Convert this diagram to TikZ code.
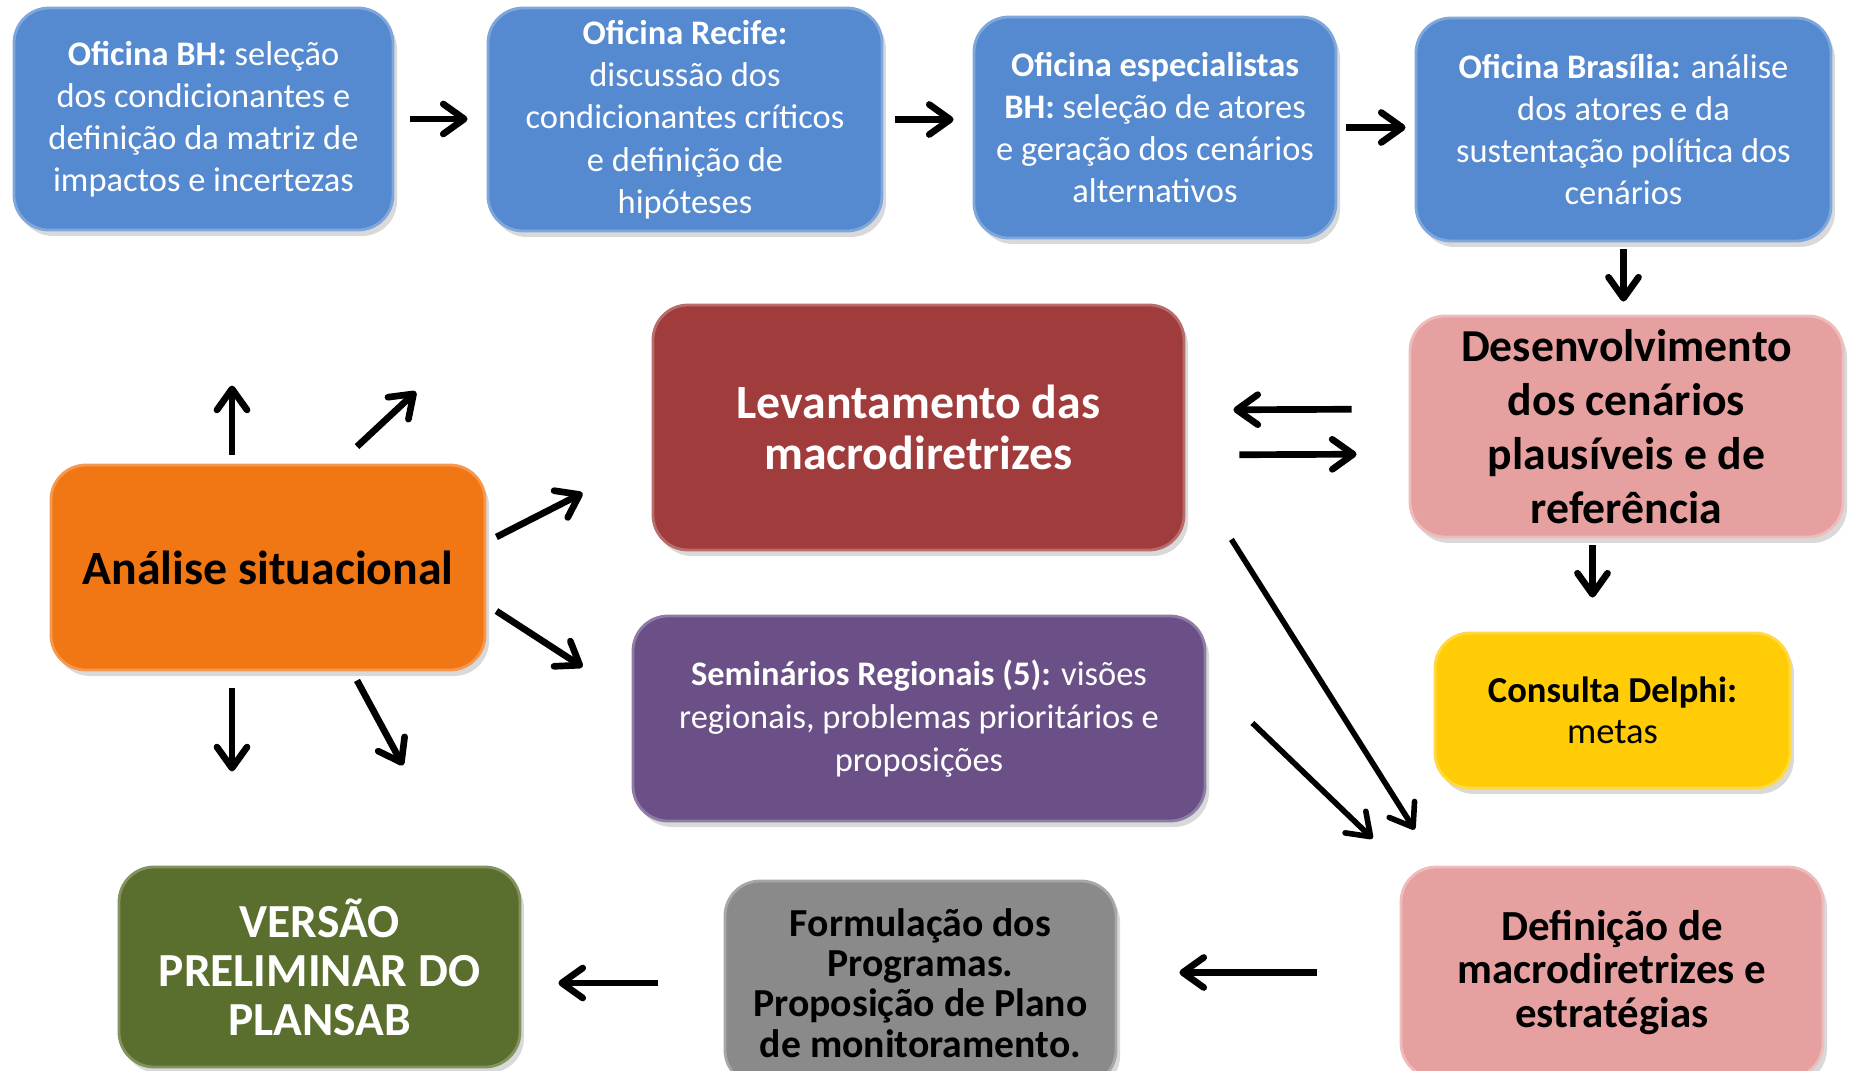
\documentclass[tikz,border=0pt]{standalone}
\usepackage{fontspec}
\setmainfont{Carlito}
\definecolor{Blucol}{HTML}{558AD0}
\definecolor{Redcol}{HTML}{A03C3B}
\definecolor{Pnkcol}{HTML}{E6A09F}
\definecolor{Orgcol}{HTML}{F17714}
\definecolor{Purcol}{HTML}{6A5087}
\definecolor{Yelcol}{HTML}{FFCC05}
\definecolor{Grncol}{HTML}{5A6E2D}
\definecolor{Grycol}{HTML}{8A8A8A}
\usetikzlibrary{arrows.meta, positioning, shadows, calc}
\tikzset{
    >={Straight Barb[length=2.1mm,width=3.0mm,round]},
    box/.style 2 args={rounded corners=3.5mm, align=center, inner sep=2pt,
        minimum width=#1, minimum height=#2, line width=0.8pt,
        drop shadow={shadow xshift=0.4mm, shadow yshift=-0.6mm, opacity=0.3}},
    topbox/.style={fill=Blucol, draw=Blucol!75!white, text=white,
        font=\fontsize{9.8}{12}\selectfont},
    arr/.style={->, line width=1.9pt, black},
    thinarr/.style={->, line width=1.6pt, black}
}

\begin{document}
\begin{tikzpicture}
    \useasboundingbox (0,0) rectangle (18.49,-10.71);

    % Oficinas
    \node[box={3.79cm}{2.22cm}, topbox] (bh) at (2.035,-1.19)
        {\textbf{Oficina BH:} seleção\\ dos condicionantes e\\ definição da matriz de\\ impactos e incertezas};
    \node[box={3.94cm}{2.23cm}, topbox] (recife) at (6.85,-1.195)
        {\textbf{Oficina Recife:}\\ discussão dos\\ condicionantes críticos\\ e definição de\\ hipóteses};
    \node[box={3.62cm}{2.21cm}, topbox] (esp) at (11.55,-1.275)
        {\textbf{Oficina especialistas}\\ \textbf{BH:} seleção de atores\\ e geração dos cenários\\ alternativos};
    \node[box={4.15cm}{2.23cm}, topbox] (bras) at (16.235,-1.295)
        {\textbf{Oficina Brasília:} análise\\ dos atores e da\\ sustentação política dos\\ cenários};

    % Middle row
    \node[box={4.33cm}{2.21cm}, fill=Pnkcol, draw=Pnkcol!70!white,
        font=\fontsize{13}{15.4}\selectfont\bfseries] (des) at (16.265,-4.265)
        {Desenvolvimento\\ dos cenários\\ plausíveis e de\\ referência};
    \node[box={5.31cm}{2.45cm}, fill=Redcol, draw=Redcol!75!white, text=white,
        font=\fontsize{13.6}{14.5}\selectfont\bfseries] (lev) at (9.185,-4.275)
        {Levantamento das\\ macrodiretrizes};
    \node[box={4.34cm}{2.05cm}, fill=Orgcol, draw=Orgcol!75!white,
        font=\fontsize{13.6}{15}\selectfont\bfseries] (ana) at (2.68,-5.675)
        {Análise situacional};
    \node[box={5.72cm}{2.05cm}, fill=Purcol, draw=Purcol!75!white, text=white,
        font=\fontsize{9.8}{12.2}\selectfont] (sem) at (9.19,-7.185)
        {\textbf{Seminários Regionais (5):} visões\\ regionais, problemas prioritários e\\ proposições};
    \node[box={3.55cm}{1.55cm}, fill=Yelcol, draw=Yelcol!75!white,
        font=\fontsize{10.4}{11.5}\selectfont] (del) at (16.125,-7.105)
        {\textbf{Consulta Delphi:}\\ metas};

    % Bottom row
    \node[box={4.22cm}{2.11cm}, fill=Pnkcol, draw=Pnkcol!70!white,
        font=\fontsize{12.2}{12.4}\selectfont\bfseries] (def) at (16.12,-9.725)
        {Definição de\\ macrodiretrizes e\\ estratégias};
    \node[box={3.91cm}{2.04cm}, fill=Grycol, draw=Grycol!75!white,
        font=\fontsize{11.3}{11.5}\selectfont\bfseries] (form) at (9.205,-9.83)
        {Formulação dos\\ Programas.\\ Proposição de Plano\\ de monitoramento.};
    \node[box={4.01cm}{2.0cm}, fill=Grncol, draw=Grncol!75!white, text=white,
        font=\fontsize{13.5}{13.9}\selectfont\bfseries] (ver) at (3.195,-9.67)
        {VERSÃO\\ PRELIMINAR DO\\ PLANSAB};

    % Free ends of the arrows around the situational analysis
    \coordinate (upA) at ([shift={(-0.36,0.78)}]ana.north);
    \coordinate (upB) at ([shift={(1.48,0.72)}]ana.north);
    \coordinate (dnA) at ([shift={(-0.36,-1.0)}]ana.south);
    \coordinate (dnB) at ([shift={(1.35,-0.94)}]ana.south);

    % Flow along the top
    \draw[arr, shorten <=1.6mm, shorten >=1.9mm] (bh.east) -- (bh.east -| recife.west);
    \draw[arr, shorten <=1.2mm, shorten >=1.9mm] (recife.east) -- (recife.east -| esp.west);
    \draw[arr, shorten <=0.9mm, shorten >=0.9mm] (esp.east) -- (esp.east -| bras.west);
    \draw[arr, shorten <=0.7mm, shorten >=1.3mm] (bras.south) -- (bras.south |- des.north);

    % Levantamento <-> Desenvolvimento
    \draw[arr, shorten <=5.7mm, shorten >=4.8mm] ([yshift=1.75mm]des.west) -- ([yshift=1.75mm]lev.east);
    \draw[arr, shorten <=5.4mm, shorten >=5.2mm] ([yshift=-2.75mm]lev.east) -- ([yshift=-2.75mm]des.west);
    \draw[arr, shorten <=0.7mm, shorten >=3.4mm] ([xshift=-3.4mm]des.south) -- ([xshift=-3.4mm]des.south |- del.north);

    % Analise situacional
    \draw[arr] ([shift={(-0.36,0.09)}]ana.north) -- (upA);
    \draw[arr] ([shift={(0.89,0.17)}]ana.north) -- (upB);
    \draw[arr] ([shift={(0.10,0.305)}]ana.east) -- ([shift={(-0.69,-0.655)}]lev.west);
    \draw[arr] ([shift={(0.10,-0.435)}]ana.east) -- ([shift={(-0.49,0.515)}]sem.west);
    \draw[arr] ([shift={(-0.36,-0.17)}]ana.south) -- (dnA);
    \draw[arr] ([shift={(0.89,-0.09)}]ana.south) -- (dnB);

    % Towards the definition of strategies
    \draw[thinarr] ([shift={(0.46,0.12)}]lev.south east) -- ([shift={(0.15,0.36)}]def.north west);
    \draw[thinarr] ([shift={(0.46,-0.045)}]sem.east) -- ([shift={(-0.27,0.27)}]def.north west);
    \draw[arr, shorten <=8.3mm, shorten >=6.2mm] (def.west) -- (def.west -| form.east);
    \draw[arr, shorten <=6.6mm, shorten >=3.7mm] (form.west) -- (form.west -| ver.east);
\end{tikzpicture}
\end{document}
